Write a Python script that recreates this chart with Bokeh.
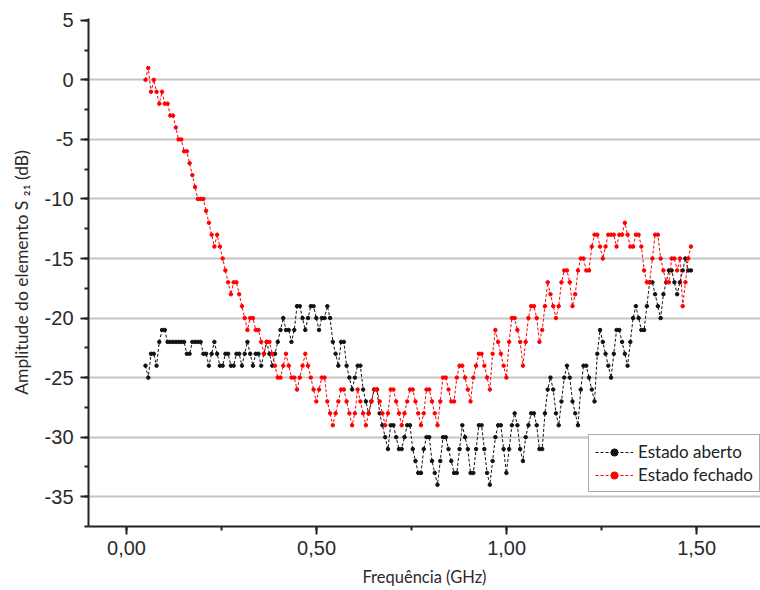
import numpy as np
from bokeh.plotting import figure
from bokeh.models import (ColumnDataSource, Legend, LegendItem, SingleIntervalTicker,
                          FixedTicker, CustomJSTickFormatter, Range1d)
from bokeh.embed import file_html
from bokeh.resources import INLINE

# Frequency sweep (GHz)
f_start = 0.05
f_stop = 1.485
n_points = 199

# S21 amplitude (dB) - Estado aberto (black)
aberto = [-24, -25, -23, -23, -24, -22, -21, -21, -22, -22, -22, -22, -22, -22, -22, -23,
          -23, -22, -22, -22, -22, -23, -23, -24, -23, -22, -23, -24, -24, -23, -23, -24,
          -24, -23, -23, -24, -23, -22, -23, -24, -23, -23, -24, -23, -22, -23, -24, -23,
          -22, -21, -20, -21, -21, -22, -21, -19, -19, -20, -21, -20, -19, -19, -20, -21,
          -20, -20, -19, -20, -22, -23, -24, -22, -22, -24, -25, -26, -25, -24, -24, -26,
          -27, -28, -27, -26, -26, -28, -29, -30, -31, -29, -29, -30, -31, -31, -30, -29,
          -29, -31, -32, -33, -33, -31, -30, -30, -32, -33, -34, -32, -30, -30, -31, -32,
          -33, -33, -31, -29, -30, -31, -33, -33, -31, -29, -29, -31, -33, -34, -32, -30,
          -29, -29, -31, -33, -31, -29, -28, -29, -31, -32, -30, -29, -28, -28, -29, -31,
          -31, -28, -26, -25, -26, -28, -29, -27, -25, -24, -25, -27, -28, -29, -26, -24,
          -24, -25, -26, -27, -23, -21, -22, -23, -24, -25, -23, -21, -21, -22, -23, -24,
          -22, -20, -19, -20, -21, -21, -19, -17, -17, -18, -19, -20, -18, -17, -16, -16,
          -17, -18, -17, -16, -15, -16, -16]

# S21 amplitude (dB) - Estado fechado (red)
fechado = [0, 1, -1, 0, -1, -2, -1, -2, -2, -3, -3, -4, -5, -5, -6, -6,
           -7, -8, -9, -10, -10, -10, -11, -12, -13, -14, -13, -14, -15, -16, -17, -18,
           -17, -17, -18, -19, -20, -21, -20, -20, -21, -21, -22, -23, -22, -22, -23, -24,
           -25, -25, -24, -23, -24, -25, -25, -26, -25, -24, -23, -24, -25, -26, -27, -26,
           -25, -25, -27, -28, -29, -28, -27, -26, -26, -27, -28, -29, -28, -26, -27, -28,
           -29, -28, -27, -26, -26, -27, -28, -29, -28, -26, -26, -27, -28, -29, -28, -27,
           -26, -26, -27, -28, -29, -28, -26, -26, -27, -28, -29, -27, -25, -25, -26, -27,
           -27, -25, -24, -24, -25, -26, -27, -25, -24, -23, -23, -24, -25, -26, -23, -21,
           -22, -23, -24, -25, -22, -20, -20, -21, -22, -24, -22, -20, -19, -19, -20, -22,
           -21, -19, -17, -18, -19, -20, -19, -17, -16, -16, -17, -19, -18, -16, -15, -15,
           -16, -16, -14, -13, -13, -14, -15, -14, -13, -13, -13, -14, -13, -13, -12, -13,
           -14, -14, -13, -13, -14, -16, -17, -17, -15, -13, -13, -15, -16, -17, -17, -15,
           -15, -16, -15, -19, -17, -15, -14]

series_labels = ["Estado aberto", "Estado fechado"]
series_colors = ["#111111", "#ff0000"]

freq = np.linspace(f_start, f_stop, n_points)

p = figure(width=760, height=590, x_range=Range1d(-0.1, 1.668), y_range=Range1d(-37.5, 5.15),
           output_backend="svg", toolbar_location=None,
           min_border_left=88, min_border_right=0, min_border_top=18, min_border_bottom=64)
p.outline_line_color = None
p.background_fill_color = "white"
p.border_fill_color = "white"

items = []
for vals, lab, col in zip([aberto, fechado], series_labels, series_colors):
    src = ColumnDataSource(dict(x=freq, y=vals))
    lr = p.line("x", "y", source=src, line_color=col, line_width=1, line_dash="3 2")
    sr = p.scatter("x", "y", source=src, marker="circle", size=3.5, fill_color=col, line_color=col)
    items.append(LegendItem(label=lab, renderers=[lr, sr]))

# Grid
p.xgrid.visible = False
p.ygrid.ticker = FixedTicker(ticks=[0, -5, -10, -15, -20, -25, -30, -35])
p.ygrid.grid_line_color = "#c4c4c4"
p.ygrid.grid_line_width = 2

tick_font = "Liberation Sans"
label_font = "Lato"
txt_col = "#2a2a2a"

# X axis
xa = p.xaxis[0]
xa.ticker = SingleIntervalTicker(interval=0.5, num_minor_ticks=2)
xa.formatter = CustomJSTickFormatter(code="return tick.toFixed(2).replace('.', ',');")
xa.axis_label = "Frequência (GHz)"
# Y axis
ya = p.yaxis[0]
ya.ticker = SingleIntervalTicker(interval=5, num_minor_ticks=2)
ya.formatter = CustomJSTickFormatter(code="return tick.toFixed(0);")
ya.axis_label = "Amplitude do elemento S \u2082\u2081 (dB)"

for ax in (xa, ya):
    ax.axis_line_color = "#222222"
    ax.axis_line_width = 2
    ax.major_tick_line_color = "#222222"
    ax.major_tick_line_width = 2
    ax.minor_tick_line_color = "#222222"
    ax.minor_tick_line_width = 2
    ax.major_tick_in = 0
    ax.minor_tick_in = 0
    ax.major_tick_out = 8
    ax.minor_tick_out = 4
    ax.major_label_text_font = tick_font
    ax.major_label_text_font_size = "20px"
    ax.major_label_text_color = txt_col
    ax.axis_label_text_font = label_font
    ax.axis_label_text_font_style = "normal"
    ax.axis_label_text_color = txt_col
xa.axis_label_text_font_size = "16.5px"
ya.axis_label_text_font_size = "17.5px"
ya.major_label_standoff = 7
ya.axis_label_standoff = 10
xa.major_label_standoff = 6
xa.axis_label_standoff = 9

legend = Legend(items=items, location=(500, 34), orientation="vertical",
                label_text_font=label_font, label_text_font_size="17px",
                label_text_color="#222222",
                glyph_width=38, glyph_height=18, spacing=2, padding=6, margin=0,
                border_line_color="#555555", border_line_width=1,
                background_fill_color="white", background_fill_alpha=1.0,
                label_standoff=5, label_height=18)
p.add_layout(legend, "center")

open("out.html", "w").write(file_html(p, INLINE))
